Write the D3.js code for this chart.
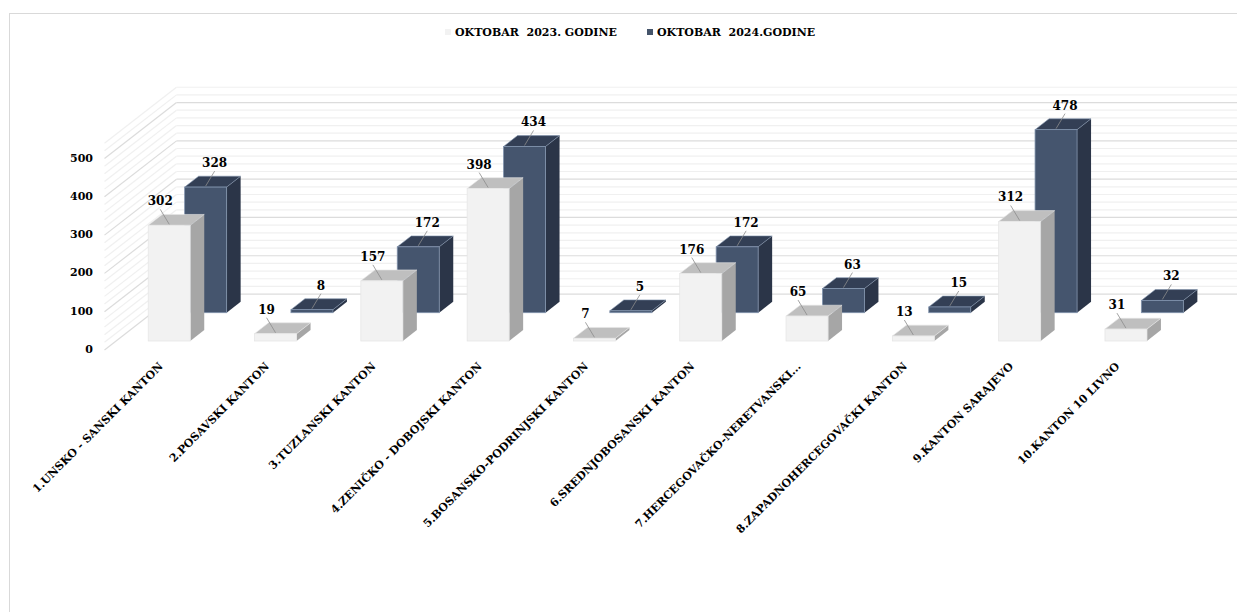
<!DOCTYPE html>
<html lang="bs">
<head>
<meta charset="utf-8">
<title>Oktobar 2023 / 2024 po kantonima</title>
<script src="https://cdn.jsdelivr.net/npm/d3@7"></script>
<style>
  body { margin: 0; background: #fff; }
  text { font-family: "DejaVu Serif", serif; font-weight: bold; fill: #000; }
  .grid { fill: none; stroke-width: 1.2px; }
  .grid.minor { stroke: #f0f0f0; }
  .grid.major { stroke: #dcdcdc; }
  .leader { stroke: #8c8c8c; stroke-width: 0.8px; }
</style>
</head>
<body>
<div id="chart"></div>
<script>
// data
var categories = [
  "1.UNSKO - SANSKI KANTON",
  "2.POSAVSKI KANTON",
  "3.TUZLANSKI KANTON",
  "4.ZENIČKO - DOBOJSKI KANTON",
  "5.BOSANSKO-PODRINJSKI KANTON",
  "6.SREDNJOBOSANSKI KANTON",
  "7.HERCEGOVAČKO-NERETVANSKI...",
  "8.ZAPADNOHERCEGOVAČKI KANTON",
  "9.KANTON SARAJEVO",
  "10.KANTON 10 LIVNO"
];
var oktobar2023 = [302, 19, 157, 398, 7, 176, 65, 13, 312, 31];
var oktobar2024 = [328, 8, 172, 434, 5, 172, 63, 15, 478, 32];
var seriesNames = ["OKTOBAR  2023. GODINE", "OKTOBAR  2024.GODINE"];
var yTicks = [0, 100, 200, 300, 400, 500];
var yMax = 540;

var width = 1237,
    height = 612;

// oblique "3d" setup: depth d moves a point right by d and up by d*k
var k = 0.777,
    floorY = 350,
    wallDepth = 72,
    barW = 42,
    barD = 14;

var svg = d3.select("#chart")
    .append("svg")
    .attr("width", width)
    .attr("height", height);

// chart border
svg.append("rect")
    .attr("x", 9.5).attr("y", 13.5)
    .attr("width", width).attr("height", height)
    .attr("fill", "none")
    .attr("stroke", "#d9d9d9");

var x = d3.scaleBand()
    .domain(categories)
    .range([104.5, 1167.5]);

// y in the front plane of the floor
var y = d3.scaleLinear()
    .domain([0, yMax])
    .range([floorY, floorY - yMax * 0.383]);

// gridlines on back wall and left wall
var gridVals = d3.range(0, yMax + 1, 20);
var grid = svg.append("g");
gridVals.forEach(function(v) {
  var cls = "grid " + (v % 100 === 0 ? "major" : "minor");
  var yb = y(v) - wallDepth * k;
  grid.append("line").attr("class", cls)
      .attr("x1", x.range()[0] + wallDepth).attr("x2", x.range()[1] + wallDepth)
      .attr("y1", yb).attr("y2", yb);
  grid.append("line").attr("class", cls)
      .attr("x1", x.range()[0]).attr("y1", y(v))
      .attr("x2", x.range()[0] + wallDepth).attr("y2", yb);
});
// draw major lines on top of the minor ones
grid.selectAll(".major").raise();

// y axis
var yAxis = svg.append("g")
    .attr("transform", "translate(93,-1)")
    .call(d3.axisLeft(y).tickValues(yTicks).tickSize(0).tickPadding(0));
yAxis.select(".domain").remove();
yAxis.selectAll("text")
    .attr("font-family", "DejaVu Serif")
    .attr("font-weight", "bold")
    .attr("font-size", 11)
    .attr("fill", "#000");

// bars
var rows = [
  { name: seriesNames[1], values: oktobar2024, depth: 48, labelOff: 9,
    front: "#45556e", top: "#333f55", side: "#2b3548", edge: "#8193ad" },
  { name: seriesNames[0], values: oktobar2023, depth: 11.6, labelOff: -9,
    front: "#f2f2f2", top: "#bfbfbf", side: "#a6a6a6", edge: "#e6e6e6" }
];

rows.forEach(function(row) {
  var g = svg.append("g");
  var bars = g.selectAll("g.bar")
      .data(row.values.map(function(v, i) { return { cat: categories[i], value: v }; }))
    .enter().append("g").attr("class", "bar");

  function geom(d) {
    var fx = x(d.cat) + x.bandwidth() / 2 - barW / 2 + row.depth;
    var base = floorY - row.depth * k;
    var top = base - (floorY - y(d.value));
    return { fx: fx, base: base, top: top };
  }

  bars.append("polygon")
      .attr("fill", row.side)
      .attr("points", function(d) {
        var b = geom(d), r = b.fx + barW;
        return [[r, b.top], [r + barD, b.top - barD * k], [r + barD, b.base - barD * k], [r, b.base]].join(" ");
      });
  bars.append("polygon")
      .attr("fill", row.top)
      .attr("stroke", row.edge).attr("stroke-width", 0.6)
      .attr("points", function(d) {
        var b = geom(d);
        return [[b.fx, b.top], [b.fx + barW, b.top], [b.fx + barW + barD, b.top - barD * k], [b.fx + barD, b.top - barD * k]].join(" ");
      });
  bars.append("rect")
      .attr("fill", row.front)
      .attr("stroke", row.edge).attr("stroke-width", 0.8)
      .attr("x", function(d) { return geom(d).fx; })
      .attr("y", function(d) { return geom(d).top; })
      .attr("width", barW)
      .attr("height", function(d) { var b = geom(d); return b.base - b.top; });

  row.geom = geom;
  row.data = bars.data();
});

// data labels with leader lines
rows.forEach(function(row) {
  var g = svg.append("g");
  row.data.forEach(function(d) {
    var b = row.geom(d);
    var cx = b.fx + barW / 2;
    var lx = cx + row.labelOff;
    g.append("line").attr("class", "leader")
        .attr("x1", lx).attr("y1", b.top - 16)
        .attr("x2", cx).attr("y2", b.top - 1);
    g.append("text")
        .attr("x", lx).attr("y", b.top - 20)
        .attr("text-anchor", "middle")
        .attr("font-size", 12)
        .text(d.value);
  });
});

// category labels
svg.append("g").selectAll("text")
    .data(categories)
  .enter().append("text")
    .attr("text-anchor", "end")
    .attr("font-size", 11)
    .attr("transform", function(d) {
      return "translate(" + (x(d) + x.bandwidth() / 2 + 6) + ",367) rotate(-45)";
    })
    .text(function(d) { return d; });

// legend
var legend = svg.append("g").selectAll("g")
    .data([
      { name: seriesNames[0], color: "#f2f2f2", x: 445 },
      { name: seriesNames[1], color: "#44546a", x: 647 }
    ])
  .enter().append("g")
    .attr("transform", function(d) { return "translate(" + d.x + ",29)"; });
legend.append("rect")
    .attr("width", 6).attr("height", 6)
    .attr("fill", function(d) { return d.color; });
legend.append("text")
    .attr("x", 10).attr("y", 7)
    .attr("font-size", 11)
    .style("white-space", "pre")
    .text(function(d) { return d.name; });
</script>
</body>
</html>
